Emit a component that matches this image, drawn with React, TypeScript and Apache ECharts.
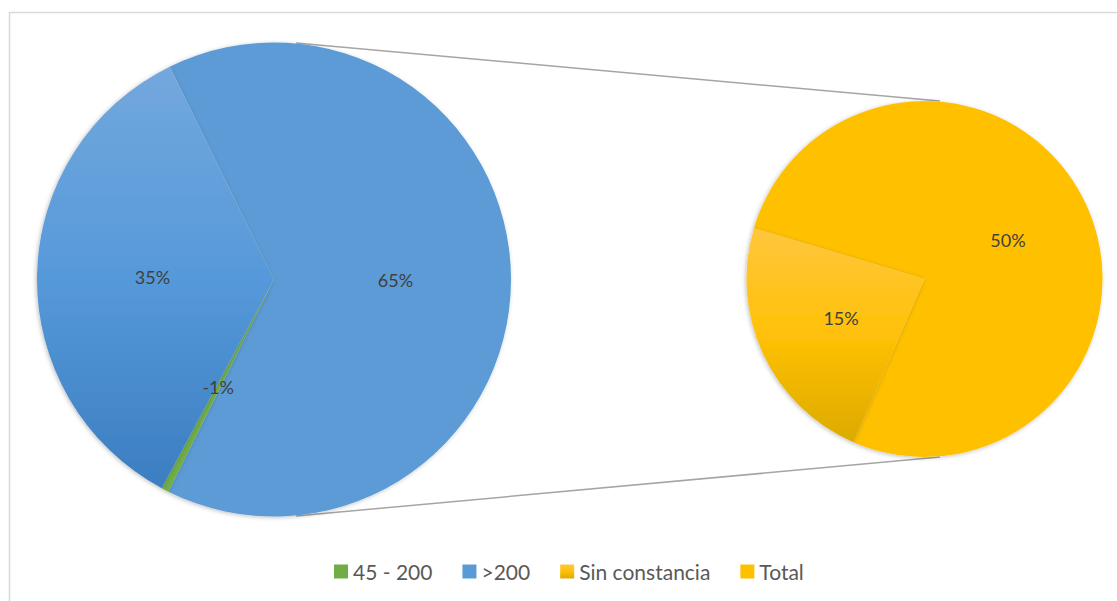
import React, { useEffect, useRef } from "react";
import * as echarts from "echarts";

const mainNames = [">200", "45 - 200", "Otro"];
const mainValues = [64.6, 0.5, 34.9];
const mainLabels = ["65%", "-1%", "35%"];

const secNames = ["Total", "Sin constancia"];
const secValues = [50, 15];
const secLabels = ["50%", "15%"];

const legendItems = ["45 - 200", ">200", "Sin constancia", "Total"];

const FONT = "Lato, 'Open Sans', sans-serif";

export default function App() {
  const ref = useRef<HTMLDivElement>(null);
  useEffect(() => {
    if (!ref.current) return;
    const chart = echarts.init(ref.current, null, { renderer: "svg" });
    const grad = (a: string, b: string, c: string) =>
      new echarts.graphic.LinearGradient(0, 0, 0, 1, [
        { offset: 0, color: a },
        { offset: 0.5, color: b },
        { offset: 1, color: c },
      ]);
    const mainColors: any = {
      ">200": "#5B9BD5",
      "45 - 200": "#70AD47",
      Otro: grad("#73A8DD", "#5699DA", "#3B7EC1"),
    };
    const secColors: any = {
      Total: "#FFC000",
      "Sin constancia": grad("#FFC63D", "#FFC107", "#DCAA00"),
    };
    const shadow = {
      shadowBlur: 4,
      shadowColor: "rgba(0,0,0,0.25)",
      shadowOffsetX: -1,
      shadowOffsetY: 1,
    };
    const label = {
      show: true,
      position: "inside",
      fontSize: 18,
      color: "#404040",
      fontFamily: FONT,
    };
    chart.setOption({
      animation: false,
      backgroundColor: "#ffffff",
      legend: {
        data: legendItems,
        left: 329,
        top: 556,
        icon: "rect",
        itemWidth: 14,
        itemHeight: 14,
        itemGap: 30,
        textStyle: { fontSize: 21, color: "#595959", fontFamily: FONT },
      },
      graphic: [
        {
          type: "rect",
          shape: { x: 9.5, y: 12.5, width: 1130, height: 620 },
          style: { fill: "none", stroke: "#D9D9D9", lineWidth: 1.5 },
          silent: true,
        },
        {
          type: "line",
          shape: { x1: 296, y1: 43, x2: 940, y2: 101 },
          style: { stroke: "#A5A5A5", lineWidth: 1.5 },
          silent: true,
        },
        {
          type: "line",
          shape: { x1: 296, y1: 516, x2: 940, y2: 457 },
          style: { stroke: "#A5A5A5", lineWidth: 1.5 },
          silent: true,
        },
      ],
      series: [
        {
          type: "pie",
          center: [274, 279.5],
          radius: [0, 237],
          startAngle: 116.1,
          clockwise: true,
          label,
          labelLine: { show: false },
          emphasis: { disabled: true },
          data: mainNames.map((n, i) => ({
            name: n,
            value: mainValues[i],
            label: { formatter: mainLabels[i] },
            itemStyle: { color: mainColors[n], borderWidth: 0, ...shadow },
          })),
        },
        {
          type: "pie",
          center: [924.5, 279],
          radius: [0, 178],
          startAngle: 163.4,
          clockwise: true,
          label,
          labelLine: { show: false },
          emphasis: { disabled: true },
          data: secNames.map((n, i) => ({
            name: n,
            value: secValues[i],
            label: { formatter: secLabels[i] },
            itemStyle: { color: secColors[n], borderWidth: 0, ...shadow },
          })),
        },
      ],
    });
    return () => chart.dispose();
  }, []);
  return (
    <div
      ref={ref}
      style={{ position: "absolute", left: 0, top: 0, width: 1117, height: 601 }}
    />
  );
}
